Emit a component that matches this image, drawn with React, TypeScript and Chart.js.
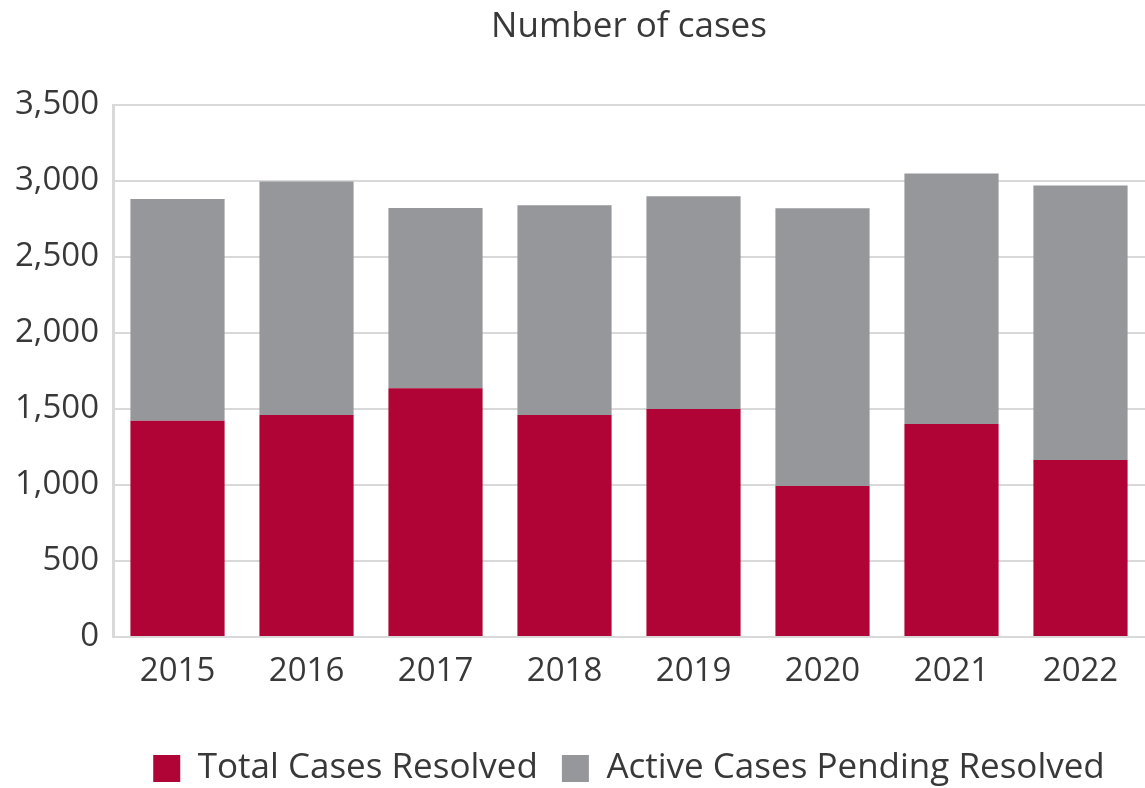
import React, { useEffect, useRef } from "react";
import { Chart, registerables } from "chart.js";

Chart.register(...registerables);

const years = ["2015", "2016", "2017", "2018", "2019", "2020", "2021", "2022"];
const totalResolved = [1423, 1460, 1637, 1460, 1500, 994, 1401, 1165];
const activePending = [1458, 1536, 1186, 1380, 1399, 1826, 1649, 1806];
const yTicks = [0, 500, 1000, 1500, 2000, 2500, 3000, 3500];

const RED = "#AF0435";
const GRAY = "#96979B";
const TEXT = "#383838";
const FONT = "'Open Sans', sans-serif";

export default function App() {
  const ref = useRef<HTMLCanvasElement | null>(null);
  useEffect(() => {
    if (!ref.current) return;
    const chart = new Chart(ref.current, {
      type: "bar",
      data: {
        labels: years,
        datasets: [
          {
            label: "Total Cases Resolved",
            data: totalResolved,
            backgroundColor: RED,
            barPercentage: 0.73,
            categoryPercentage: 1,
          },
          {
            label: "Active Cases Pending Resolved",
            data: activePending,
            backgroundColor: GRAY,
            barPercentage: 0.73,
            categoryPercentage: 1,
          },
        ],
      },
      options: {
        animation: false,
        responsive: true,
        maintainAspectRatio: false,
        layout: { padding: { left: 1, right: 0, top: 6, bottom: -8 } },
        plugins: {
          title: {
            display: true,
            text: "Number of cases",
            color: TEXT,
            fullSize: false,
            font: { family: FONT, size: 35, weight: "normal" },
            padding: { top: 0, bottom: 57 },
          },
          legend: {
            position: "bottom",
            fullSize: false,
            labels: {
              color: TEXT,
              boxWidth: 27,
              boxHeight: 27,
              padding: 24,
              font: { family: FONT, size: 35 },
            },
          },
          tooltip: { enabled: false },
        },
        scales: {
          x: {
            stacked: true,
            grid: { display: false, drawTicks: false },
            border: { display: false },
            ticks: {
              color: TEXT,
              padding: 15,
              font: { family: FONT, size: 33 },
            },
            afterFit: (scale: any) => {
              scale.height = 90;
            },
          },
          y: {
            stacked: true,
            min: 0,
            max: 3500,
            afterBuildTicks: (axis: any) => {
              axis.ticks = yTicks.map((v) => ({ value: v }));
            },
            grid: { color: "#d9d9d9", lineWidth: 2, drawTicks: false },
            border: { display: true, color: "#d9d9d9", width: 3 },
            ticks: {
              color: TEXT,
              padding: 14,
              font: { family: FONT, size: 33 },
              callback: (v: any) => Number(v).toLocaleString("en-US"),
            },
          },
        },
      },
    });
    return () => chart.destroy();
  }, []);
  return (
    <div style={{ position: "absolute", left: 0, top: 0, width: 1145, height: 788, background: "#fff" }}>
      <canvas ref={ref} />
    </div>
  );
}
